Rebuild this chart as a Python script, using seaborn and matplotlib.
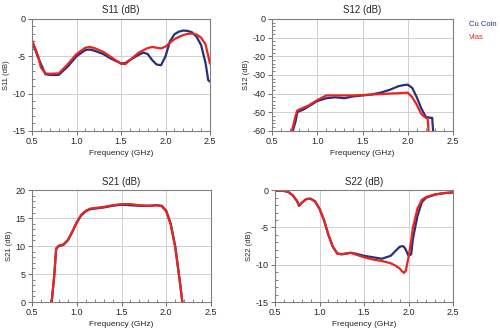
import numpy as np
import pandas as pd
import matplotlib
matplotlib.use("Agg")
import matplotlib.pyplot as plt
from matplotlib.ticker import MultipleLocator
import seaborn as sns

# --- S11 (dB) ---
s11_cu_f = [0.50, 0.57, 0.65, 0.70, 0.80, 0.90, 1.00, 1.10, 1.15, 1.20, 1.30, 1.40, 1.50, 1.55, 1.60,
            1.70, 1.75, 1.80, 1.85, 1.90, 1.95, 2.00, 2.05, 2.10, 2.15, 2.20, 2.25, 2.30, 2.35, 2.40,
            2.45, 2.48, 2.50]
s11_cu_v = [-3.0, -5.2, -7.4, -7.5, -7.5, -6.4, -5.0, -4.15, -4.1, -4.25, -4.7, -5.4, -5.95, -5.9, -5.5,
            -4.8, -4.5, -4.7, -5.5, -6.1, -6.2, -5.0, -3.0, -2.05, -1.7, -1.55, -1.6, -1.8, -2.4, -3.5,
            -5.9, -8.2, -8.4]
s11_via_f = [0.50, 0.57, 0.60, 0.65, 0.70, 0.80, 0.90, 1.00, 1.10, 1.15, 1.20, 1.30, 1.40, 1.50, 1.55,
             1.60, 1.70, 1.80, 1.85, 1.90, 1.95, 2.00, 2.05, 2.10, 2.20, 2.25, 2.30, 2.35, 2.40, 2.45,
             2.50]
s11_via_v = [-2.8, -5.0, -6.5, -7.3, -7.35, -7.3, -6.1, -4.7, -3.85, -3.75, -3.9, -4.4, -5.2, -6.0, -6.05,
             -5.5, -4.5, -3.9, -3.75, -3.85, -3.95, -3.7, -3.2, -2.7, -2.15, -2.0, -1.95, -2.1, -2.5, -3.4,
             -6.0]

# --- S12 (dB) ---
s12_cu_f = [0.73, 0.76, 0.78, 0.80, 0.85, 0.90, 1.00, 1.10, 1.20, 1.30, 1.40, 1.50, 1.60, 1.70, 1.80,
            1.90, 1.95, 2.00, 2.05, 2.10, 2.15, 2.20, 2.25, 2.27, 2.28]
s12_cu_v = [-60, -55, -50, -49.5, -48.5, -47, -44, -42.5, -42, -42.5, -41.5, -41, -40.5, -39.5, -38,
            -36, -35.5, -35.2, -37, -42, -48, -52.5, -53, -53, -60]
s12_via_f = [0.72, 0.76, 0.78, 0.85, 0.90, 1.00, 1.10, 1.20, 1.30, 1.40, 1.50, 1.60, 1.70, 1.80, 1.90,
             2.00, 2.05, 2.10, 2.15, 2.20, 2.22, 2.23]
s12_via_v = [-60, -52, -49, -47.5, -46.5, -43.5, -41, -41, -41, -41, -40.8, -40.5, -40.3, -40, -39.8,
             -39.5, -42, -46, -51, -53, -53.5, -60]

# --- S21 (dB) ---
s21_f = [0.72, 0.75, 0.77, 0.80, 0.85, 0.90, 0.95, 1.00, 1.05, 1.10, 1.15, 1.20, 1.30, 1.40, 1.50,
         1.60, 1.70, 1.80, 1.90, 1.95, 2.00, 2.05, 2.10, 2.15, 2.18]
s21_cu_v = [0, 5, 9.5, 10, 10.2, 11, 12.5, 14.2, 15.5, 16.2, 16.6, 16.7, 16.9, 17.2, 17.4,
            17.3, 17.2, 17.2, 17.3, 17.2, 16.3, 14, 10, 4, 0]
s21_via_v = [0, 5, 9.6, 10.1, 10.3, 11.1, 12.6, 14.3, 15.6, 16.3, 16.7, 16.8, 17.0, 17.3, 17.5,
             17.5, 17.3, 17.2, 17.3, 17.1, 16.2, 13.8, 9.8, 3.8, 0]

# --- S22 (dB) ---
s22_f = [0.50, 0.60, 0.65, 0.70, 0.75, 0.77, 0.80, 0.85, 0.90, 0.95, 1.00, 1.05, 1.10, 1.15, 1.20,
         1.25, 1.30, 1.35, 1.40, 1.50, 1.60, 1.70, 1.80, 1.85, 1.90, 1.93, 1.95, 1.97, 2.00, 2.03,
         2.05, 2.10, 2.15, 2.20, 2.30, 2.40, 2.50]
s22_cu_v = [-0.05, -0.1, -0.25, -0.7, -1.5, -2.1, -1.7, -1.2, -1.15, -1.5, -2.5, -4.0, -6.0, -7.6, -8.5,
            -8.6, -8.5, -8.4, -8.5, -8.8, -9.0, -9.2, -8.8, -8.2, -7.6, -7.5, -7.6, -8.0, -8.8, -8.6,
            -6.5, -3.5, -1.6, -1.0, -0.6, -0.4, -0.3]
s22_via_v = [-0.05, -0.1, -0.25, -0.7, -1.5, -2.1, -1.7, -1.2, -1.15, -1.5, -2.5, -4.0, -6.0, -7.6, -8.5,
             -8.6, -8.5, -8.4, -8.6, -9.0, -9.3, -9.5, -9.8, -10.1, -10.5, -10.9, -11.1, -10.8, -9.0, -6.8,
             -5.0, -2.5, -1.3, -0.9, -0.55, -0.4, -0.3]

series_names = ["Cu Coin", "Vias"]
titles = ["S11 (dB)", "S12 (dB)", "S21 (dB)", "S22 (dB)"]
ylabels = ["S11 (dB)", "S12 (dB)", "S21 (dB)", "S22 (dB)"]
xticks = [0.5, 1.0, 1.5, 2.0, 2.5]
yranges = [(-15, 0, 5), (-60, 0, 10), (0, 20, 5), (-15, 0, 5)]


def frame(fa, va, fb, vb):
    return pd.concat([
        pd.DataFrame({"freq": fa, "val": va, "series": series_names[0]}),
        pd.DataFrame({"freq": fb, "val": vb, "series": series_names[1]}),
    ], ignore_index=True)


frames = [
    frame(s11_cu_f, s11_cu_v, s11_via_f, s11_via_v),
    frame(s12_cu_f, s12_cu_v, s12_via_f, s12_via_v),
    frame(s21_f, s21_cu_v, s21_f, s21_via_v),
    frame(s22_f, s22_cu_v, s22_f, s22_via_v),
]

sns.set_style("white")
plt.rcParams["font.family"] = ["Liberation Sans", "DejaVu Sans"]
plt.rcParams["axes.unicode_minus"] = False

palette = {"Cu Coin": "#27307a", "Vias": "#e8251f"}

fig = plt.figure(figsize=(5.0, 3.33), dpi=100)
rects = [
    [0.064, 0.607, 0.356, 0.336],
    [0.544, 0.607, 0.362, 0.336],
    [0.064, 0.093, 0.358, 0.336],
    [0.550, 0.093, 0.356, 0.336],
]

for rect, df, title, ylab, (y0, y1, ystep) in zip(rects, frames, titles, ylabels, yranges):
    ax = fig.add_axes(rect)
    sns.lineplot(data=df, x="freq", y="val", hue="series", palette=palette,
                 linewidth=1.6, sort=False, estimator=None, legend=False, ax=ax)
    ax.set_xlim(0.5, 2.5)
    ax.set_ylim(y0, y1)
    ax.set_xticks(xticks)
    ax.set_yticks(np.arange(y0, y1 + ystep / 2, ystep))
    ax.xaxis.set_minor_locator(MultipleLocator(0.1))
    ax.yaxis.set_minor_locator(MultipleLocator(ystep / 5))
    ax.grid(True, which="major", color="#d0d0d0", linewidth=0.7)
    ax.set_axisbelow(True)
    for sp in ax.spines.values():
        sp.set_color("#808080")
        sp.set_linewidth(0.8)
    ax.tick_params(which="major", direction="out", length=3, width=0.6, color="#555555",
                   labelsize=6.5, pad=1.5, bottom=True, left=True)
    ax.tick_params(which="minor", direction="in", length=2, width=0.5, color="#555555",
                   bottom=True, left=True)
    ax.set_title(title, fontsize=7, pad=4)
    ax.set_xlabel("Frequency (GHz)", fontsize=6, labelpad=3)
    ax.set_ylabel(ylab, fontsize=5.5, labelpad=2)

fig.text(0.938, 0.925, "Cu Coin", color=palette["Cu Coin"], fontsize=5.5, va="center")
fig.text(0.938, 0.888, "Vias", color=palette["Vias"], fontsize=5.5, va="center")

fig.savefig("out.png", dpi=100, facecolor="white")
